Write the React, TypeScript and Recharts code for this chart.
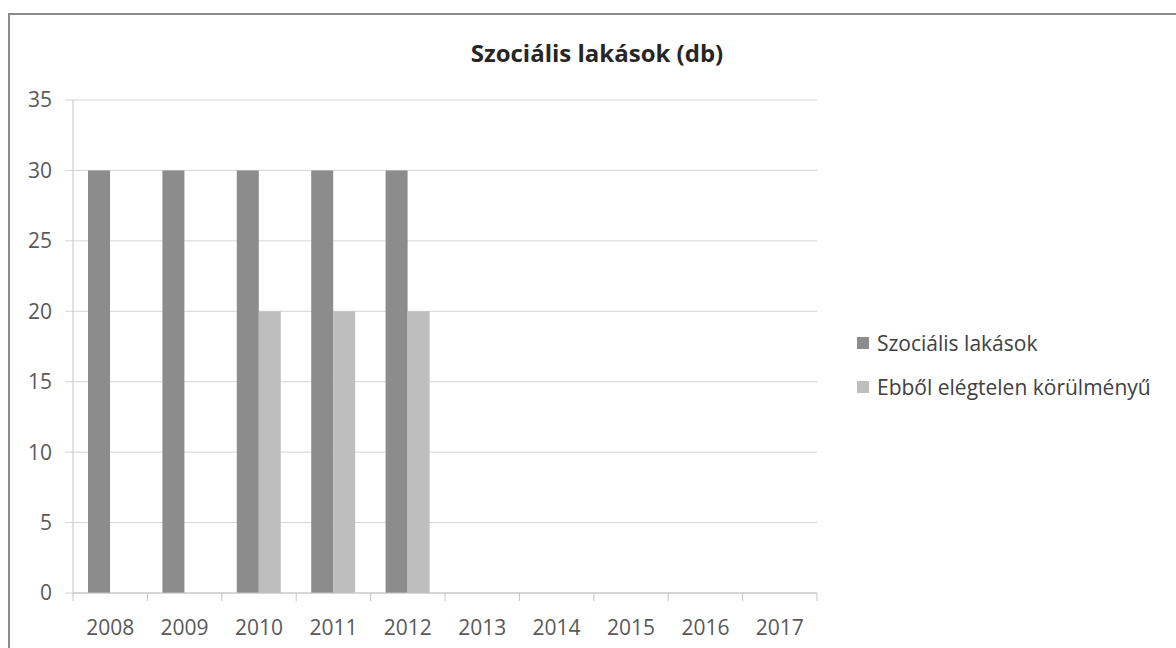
import { BarChart, Bar, XAxis, YAxis, CartesianGrid } from 'recharts';

const years = ['2008', '2009', '2010', '2011', '2012', '2013', '2014', '2015', '2016', '2017'];
const socialHousing = [30, 30, 30, 30, 30, null, null, null, null, null];
const substandard = [null, null, 20, 20, 20, null, null, null, null, null];
const yTicks = [0, 5, 10, 15, 20, 25, 30, 35];

const seriesNames = ['Szociális lakások', 'Ebből elégtelen körülményű'];
const seriesColors = ['#8c8c8c', '#bebebe'];

const W = 1176;
const H = 648;
const MARGIN = { top: 100, right: 359, bottom: 25, left: 0 };
const Y_AXIS_W = 73;
const BAND = (W - MARGIN.left - MARGIN.right - Y_AXIS_W) / years.length;
const FONT = "'Open Sans', sans-serif";

const data = years.map((year, i) => ({
  year,
  social: socialHousing[i],
  poor: substandard[i],
}));

function YearTick(props: any) {
  const { x, y, payload, index } = props;
  const left = x - BAND / 2;
  return (
    <g>
      <line x1={left} y1={y} x2={left} y2={y + 8} stroke="#c4c4c4" />
      {index === years.length - 1 && (
        <line x1={x + BAND / 2} y1={y} x2={x + BAND / 2} y2={y + 8} stroke="#c4c4c4" />
      )}
      <text
        x={x}
        y={y + 34}
        textAnchor="middle"
        dominantBaseline="central"
        fill="#595959"
        fontSize={21}
        fontFamily={FONT}
      >
        {payload.value}
      </text>
    </g>
  );
}

export default function App() {
  return (
    <div style={{ position: 'fixed', left: 0, top: 0, width: W, height: H, overflow: 'hidden', background: '#fff' }}>
      {/* frame of the original chart object, cut off right and bottom */}
      <div
        style={{
          position: 'absolute',
          left: 8,
          top: 13,
          width: W,
          height: H,
          borderTop: '2px solid #8a8a8a',
          borderLeft: '2px solid #8a8a8a',
        }}
      />
      <div
        style={{
          position: 'absolute',
          left: 597,
          top: 41,
          transform: 'translateX(-50%)',
          fontFamily: FONT,
          fontWeight: 700,
          fontSize: 24,
          lineHeight: '24px',
          color: '#262626',
          whiteSpace: 'nowrap',
        }}
      >
        Szociális lakások (db)
      </div>
      <div style={{ position: 'absolute', left: 0, top: 0 }}>
        <BarChart width={W} height={H} data={data} margin={MARGIN} barGap={0} barSize={22}>
          <CartesianGrid vertical={false} stroke="#d4d4d4" />
          <XAxis
            dataKey="year"
            height={30}
            interval={0}
            tickSize={0}
            tickMargin={0}
            tickLine={false}
            axisLine={{ stroke: '#c4c4c4' }}
            tick={<YearTick />}
          />
          <YAxis
            width={Y_AXIS_W}
            domain={[0, 35]}
            ticks={yTicks}
            interval={0}
            tickSize={8}
            tickMargin={13}
            axisLine={{ stroke: '#c4c4c4' }}
            tickLine={{ stroke: '#d4d4d4' }}
            tick={{ fill: '#595959', fontSize: 21, fontFamily: FONT }}
          />
          <Bar dataKey="social" name={seriesNames[0]} fill={seriesColors[0]} isAnimationActive={false} />
          <Bar dataKey="poor" name={seriesNames[1]} fill={seriesColors[1]} isAnimationActive={false} />
        </BarChart>
      </div>
      <div
        style={{
          position: 'absolute',
          left: 857,
          top: 321,
          fontFamily: FONT,
          fontSize: 21,
          color: '#404040',
        }}
      >
        {seriesNames.map((name, i) => (
          <div key={name} style={{ display: 'flex', alignItems: 'center', height: 44, whiteSpace: 'nowrap' }}>
            <span style={{ width: 12, height: 12, background: seriesColors[i], marginRight: 8 }} />
            {name}
          </div>
        ))}
      </div>
    </div>
  );
}
